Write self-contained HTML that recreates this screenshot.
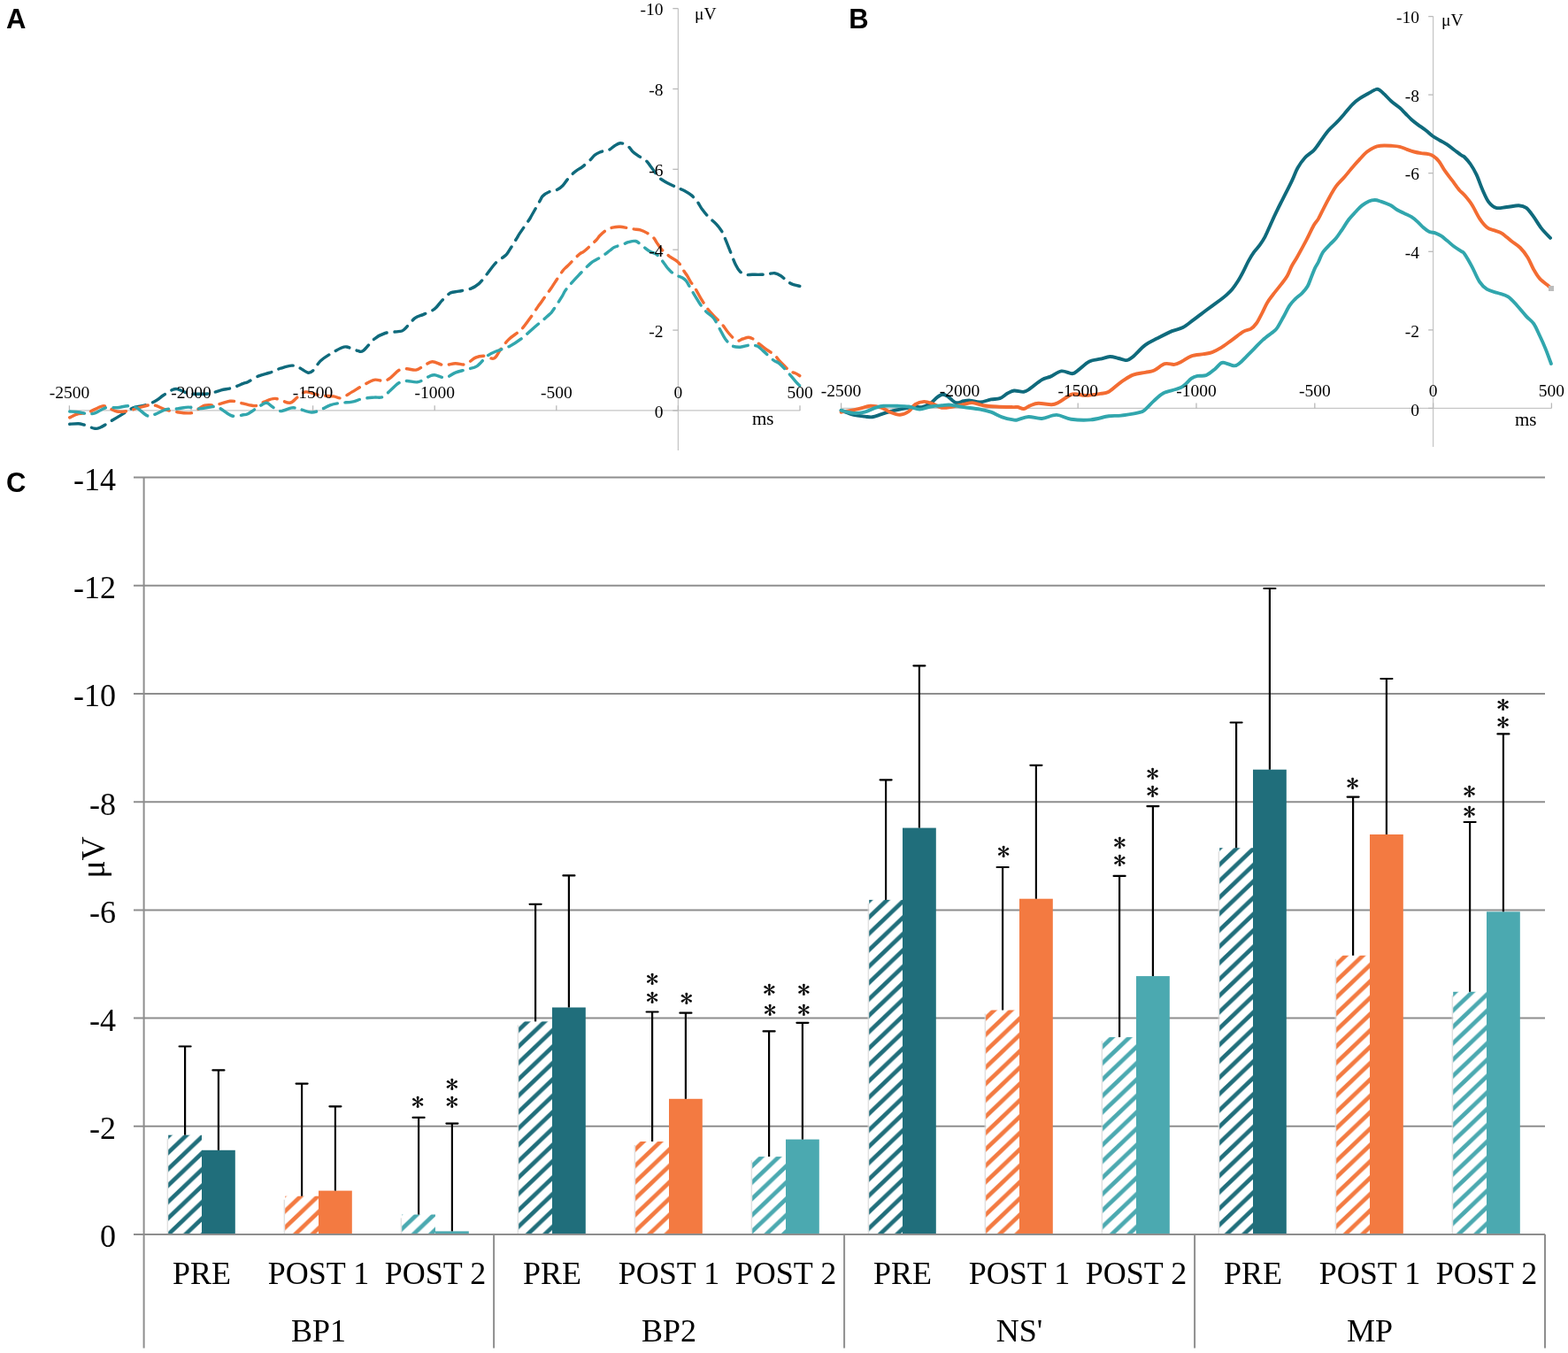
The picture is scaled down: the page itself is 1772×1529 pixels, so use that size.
<!DOCTYPE html><html><head><meta charset="utf-8"><title>ERP figure</title><style>html,body{margin:0;padding:0;background:#fff;}svg{display:block;}text{font-family:"Liberation Serif",serif;fill:#000;}.lbl{font-family:"Liberation Sans",sans-serif;font-weight:bold;}.st{font-family:"IPAGothic",sans-serif;}</style></head><body>
<svg width="1772" height="1529" viewBox="0 0 1772 1529">
<defs><pattern id="h0" patternUnits="userSpaceOnUse" x="190.2" y="1317.7" width="19.4" height="18.5"><rect width="19.4" height="18.5" fill="#fff"/><path d="M0,18.5 L19.4,0 L19.4,6.5 L0,25 Z" fill="#206E7B"/><path d="M0,0 L19.4,-18.5 L19.4,-12 L0,6.5 Z" fill="#206E7B"/></pattern><pattern id="h1" patternUnits="userSpaceOnUse" x="322.3" y="1309.8" width="19.4" height="18.5"><rect width="19.4" height="18.5" fill="#fff"/><path d="M0,18.5 L19.4,0 L19.4,6.5 L0,25 Z" fill="#F37A41"/><path d="M0,0 L19.4,-18.5 L19.4,-12 L0,6.5 Z" fill="#F37A41"/></pattern><pattern id="h2" patternUnits="userSpaceOnUse" x="454.1" y="1311.6" width="19.4" height="18.5"><rect width="19.4" height="18.5" fill="#fff"/><path d="M0,18.5 L19.4,0 L19.4,6.5 L0,25 Z" fill="#4BA9B0"/><path d="M0,0 L19.4,-18.5 L19.4,-12 L0,6.5 Z" fill="#4BA9B0"/></pattern><pattern id="h3" patternUnits="userSpaceOnUse" x="586.3" y="1308.6" width="19.4" height="18.5"><rect width="19.4" height="18.5" fill="#fff"/><path d="M0,18.5 L19.4,0 L19.4,6.5 L0,25 Z" fill="#206E7B"/><path d="M0,0 L19.4,-18.5 L19.4,-12 L0,6.5 Z" fill="#206E7B"/></pattern><pattern id="h4" patternUnits="userSpaceOnUse" x="718.4" y="1313.6" width="19.4" height="18.5"><rect width="19.4" height="18.5" fill="#fff"/><path d="M0,18.5 L19.4,0 L19.4,6.5 L0,25 Z" fill="#F37A41"/><path d="M0,0 L19.4,-18.5 L19.4,-12 L0,6.5 Z" fill="#F37A41"/></pattern><pattern id="h5" patternUnits="userSpaceOnUse" x="850.1" y="1314.2" width="19.4" height="18.5"><rect width="19.4" height="18.5" fill="#fff"/><path d="M0,18.5 L19.4,0 L19.4,6.5 L0,25 Z" fill="#4BA9B0"/><path d="M0,0 L19.4,-18.5 L19.4,-12 L0,6.5 Z" fill="#4BA9B0"/></pattern><pattern id="h6" patternUnits="userSpaceOnUse" x="982.3" y="1310.6" width="19.4" height="18.5"><rect width="19.4" height="18.5" fill="#fff"/><path d="M0,18.5 L19.4,0 L19.4,6.5 L0,25 Z" fill="#206E7B"/><path d="M0,0 L19.4,-18.5 L19.4,-12 L0,6.5 Z" fill="#206E7B"/></pattern><pattern id="h7" patternUnits="userSpaceOnUse" x="1114.3" y="1313.6" width="19.4" height="18.5"><rect width="19.4" height="18.5" fill="#fff"/><path d="M0,18.5 L19.4,0 L19.4,6.5 L0,25 Z" fill="#F37A41"/><path d="M0,0 L19.4,-18.5 L19.4,-12 L0,6.5 Z" fill="#F37A41"/></pattern><pattern id="h8" patternUnits="userSpaceOnUse" x="1246.4" y="1308.6" width="19.4" height="18.5"><rect width="19.4" height="18.5" fill="#fff"/><path d="M0,18.5 L19.4,0 L19.4,6.5 L0,25 Z" fill="#4BA9B0"/><path d="M0,0 L19.4,-18.5 L19.4,-12 L0,6.5 Z" fill="#4BA9B0"/></pattern><pattern id="h9" patternUnits="userSpaceOnUse" x="1378.2" y="1306.8" width="19.4" height="18.5"><rect width="19.4" height="18.5" fill="#fff"/><path d="M0,18.5 L19.4,0 L19.4,6.5 L0,25 Z" fill="#206E7B"/><path d="M0,0 L19.4,-18.5 L19.4,-12 L0,6.5 Z" fill="#206E7B"/></pattern><pattern id="h10" patternUnits="userSpaceOnUse" x="1510.3" y="1308.6" width="19.4" height="18.5"><rect width="19.4" height="18.5" fill="#fff"/><path d="M0,18.5 L19.4,0 L19.4,6.5 L0,25 Z" fill="#F37A41"/><path d="M0,0 L19.4,-18.5 L19.4,-12 L0,6.5 Z" fill="#F37A41"/></pattern><pattern id="h11" patternUnits="userSpaceOnUse" x="1642.4" y="1304.8" width="19.4" height="18.5"><rect width="19.4" height="18.5" fill="#fff"/><path d="M0,18.5 L19.4,0 L19.4,6.5 L0,25 Z" fill="#4BA9B0"/><path d="M0,0 L19.4,-18.5 L19.4,-12 L0,6.5 Z" fill="#4BA9B0"/></pattern><linearGradient id="sh" x1="0" x2="1" y1="0" y2="0"><stop offset="0" stop-color="#e6e6e6" stop-opacity="0"/><stop offset="1" stop-color="#cfcfcf"/></linearGradient></defs>
<text class="lbl" x="7" y="32" font-size="31">A</text>
<text class="lbl" x="959.2" y="32" font-size="31">B</text>
<text class="lbl" x="7" y="555.8" font-size="31">C</text>
<line x1="766.4" y1="9.6" x2="766.4" y2="509" stroke="#C6C6C6" stroke-width="1.3"/>
<line x1="78.4" y1="463.9" x2="904.2" y2="463.9" stroke="#C6C6C6" stroke-width="1.3"/>
<line x1="760.3" y1="463.9" x2="766.4" y2="463.9" stroke="#B9B9B9" stroke-width="1.3"/>
<line x1="760.3" y1="373.1" x2="766.4" y2="373.1" stroke="#B9B9B9" stroke-width="1.3"/>
<line x1="760.3" y1="282.2" x2="766.4" y2="282.2" stroke="#B9B9B9" stroke-width="1.3"/>
<line x1="760.3" y1="191.3" x2="766.4" y2="191.3" stroke="#B9B9B9" stroke-width="1.3"/>
<line x1="760.3" y1="100.5" x2="766.4" y2="100.5" stroke="#B9B9B9" stroke-width="1.3"/>
<line x1="760.3" y1="9.6" x2="766.4" y2="9.6" stroke="#B9B9B9" stroke-width="1.3"/>
<line x1="78.4" y1="458.3" x2="78.4" y2="463.9" stroke="#B9B9B9" stroke-width="1.3"/>
<line x1="216" y1="458.3" x2="216" y2="463.9" stroke="#B9B9B9" stroke-width="1.3"/>
<line x1="353.6" y1="458.3" x2="353.6" y2="463.9" stroke="#B9B9B9" stroke-width="1.3"/>
<line x1="491.2" y1="458.3" x2="491.2" y2="463.9" stroke="#B9B9B9" stroke-width="1.3"/>
<line x1="628.8" y1="458.3" x2="628.8" y2="463.9" stroke="#B9B9B9" stroke-width="1.3"/>
<line x1="766.4" y1="458.3" x2="766.4" y2="463.9" stroke="#B9B9B9" stroke-width="1.3"/>
<line x1="904" y1="458.3" x2="904" y2="463.9" stroke="#B9B9B9" stroke-width="1.3"/>
<line x1="1619.6" y1="18.6" x2="1619.6" y2="505" stroke="#C6C6C6" stroke-width="1.3"/>
<line x1="950.6" y1="461.4" x2="1753.4" y2="461.4" stroke="#C6C6C6" stroke-width="1.3"/>
<line x1="1614.2" y1="461.4" x2="1619.6" y2="461.4" stroke="#B9B9B9" stroke-width="1.3"/>
<line x1="1614.2" y1="372.9" x2="1619.6" y2="372.9" stroke="#B9B9B9" stroke-width="1.3"/>
<line x1="1614.2" y1="284.3" x2="1619.6" y2="284.3" stroke="#B9B9B9" stroke-width="1.3"/>
<line x1="1614.2" y1="195.7" x2="1619.6" y2="195.7" stroke="#B9B9B9" stroke-width="1.3"/>
<line x1="1614.2" y1="107.1" x2="1619.6" y2="107.1" stroke="#B9B9B9" stroke-width="1.3"/>
<line x1="1614.2" y1="18.6" x2="1619.6" y2="18.6" stroke="#B9B9B9" stroke-width="1.3"/>
<line x1="950.6" y1="455.4" x2="950.6" y2="461.4" stroke="#B9B9B9" stroke-width="1.3"/>
<line x1="1084.4" y1="455.4" x2="1084.4" y2="461.4" stroke="#B9B9B9" stroke-width="1.3"/>
<line x1="1218.2" y1="455.4" x2="1218.2" y2="461.4" stroke="#B9B9B9" stroke-width="1.3"/>
<line x1="1352" y1="455.4" x2="1352" y2="461.4" stroke="#B9B9B9" stroke-width="1.3"/>
<line x1="1485.8" y1="455.4" x2="1485.8" y2="461.4" stroke="#B9B9B9" stroke-width="1.3"/>
<line x1="1619.6" y1="455.4" x2="1619.6" y2="461.4" stroke="#B9B9B9" stroke-width="1.3"/>
<line x1="1753.4" y1="455.4" x2="1753.4" y2="461.4" stroke="#B9B9B9" stroke-width="1.3"/>
<path d="M78.7,479.3C80.3,479.2 85.9,478.6 88.6,478.7C91.3,478.8 91.7,479.1 94.8,480C97.9,480.9 104.1,483.8 107.2,484.3C110.3,484.8 110.4,484.4 113.5,483C116.6,481.6 121.8,478.1 125.9,475.6C130,473.1 134.2,470.6 138.3,468.1C142.4,465.6 146.6,462.4 150.7,460.7C154.8,459 159,459.4 163.1,458.2C167.2,457 172,455.2 175.5,453.3C179,451.4 181.1,449.1 184.2,447C187.3,444.9 191.5,442 194.2,440.8C196.9,439.6 197.3,439 200.4,439.6C203.5,440.2 208.7,443.7 212.8,444.6C216.9,445.5 221.1,445.2 225.2,445.2C229.3,445.2 233.5,445.3 237.6,444.6C241.7,443.9 245.9,441.8 250,440.8C254.1,439.8 258.2,439.6 262.4,438.4C266.5,437.2 272,434.5 274.9,433.4C277.8,432.3 277.1,433.1 280,431.7C282.9,430.3 288.3,426.6 292.4,424.9C296.5,423.1 300.7,422.6 304.8,421.2C308.9,419.8 313.1,417.5 317.2,416.2C321.3,414.9 326.2,413.2 329.7,413.1C333.2,413 335.3,414.2 338.4,415.6C341.5,417 345.6,420.8 348.3,421.2C351,421.6 352.2,420.3 354.5,418.1C356.8,415.9 358.8,411.1 361.9,408.1C365,405.1 369.2,402.6 373.1,400.1C377,397.6 382.4,394.7 385.5,393.3C388.6,391.9 388.6,391.5 391.7,392C394.8,392.5 401.1,395.7 404.2,396.4C407.3,397.1 407.3,398.6 410.4,396.4C413.5,394.2 418.7,386.6 422.8,383.3C426.9,380 430.6,377.9 435.2,376.5C439.8,375.1 446.6,375.2 450.1,374.6C453.6,374 453.2,375.3 456.3,372.8C459.4,370.3 465,362.6 468.7,359.7C472.4,356.8 474.9,357.1 478.6,355.4C482.3,353.6 487.6,351.8 491.1,349.2C494.6,346.6 496.5,342.6 499.5,339.6C502.5,336.6 505.9,332.8 509,331.1C512.1,329.4 514.6,330 518.4,329.2C522.2,328.4 527.9,327.7 531.7,326.3C535.5,324.9 538,323.4 541.2,320.6C544.4,317.8 547.6,313.2 550.7,309.3C553.8,305.4 556.9,300.6 560,297.4C563.1,294.2 567.1,292 569.4,290.1C571.7,288.2 571.1,289.4 573.6,285.9C576.1,282.4 581.8,272.8 584.1,269.1C586.4,265.4 584.9,267.3 587.2,263.9C589.5,260.5 595.4,252.1 597.7,248.7C600,245.3 598.7,247.2 600.8,243.5C602.9,239.8 608.2,230.4 610.3,226.7C612.4,223 611.7,223.2 613.4,221.5C615.1,219.8 618.1,217.9 620.7,216.8C623.3,215.7 626.6,215.9 629.1,214.7C631.6,213.5 634,211.7 636,209.7C638,207.7 639.3,205.2 641.2,202.9C643.1,200.6 645.6,197.9 647.5,196.1C649.4,194.3 651,193.1 652.8,191.9C654.5,190.7 655.6,190.6 658,188.7C660.4,186.8 665.1,182.6 667.4,180.4C669.7,178.2 669.9,177.1 671.6,175.7C673.4,174.3 675.6,173 677.9,172C680.2,171 683.3,170.4 685.2,169.9C687.1,169.4 687.8,169.7 689.4,168.8C691,167.9 692.7,165.9 694.6,164.7C696.5,163.5 698.8,161.9 700.9,161.7C703,161.5 705.5,162.8 707.2,163.6C709,164.4 710.1,165.5 711.4,166.8C712.7,168.1 713.5,169.9 715.2,171.5C716.9,173.1 719,174.5 721.5,176.2C724,177.8 727.6,179.5 729.9,181.4C732.2,183.3 733.4,185.4 735.1,187.7C736.9,190 738.6,192.7 740.4,195C742.1,197.3 743.7,199.6 745.6,201.3C747.5,203.1 749.5,204.1 751.9,205.5C754.3,206.9 757.9,208.5 760.3,209.7C762.6,210.8 763.8,211.4 766,212.4C768.2,213.4 771.2,214.3 773.8,215.7C776.4,217.1 779.3,218.8 781.7,220.9C784.1,223 786.2,225.5 788.2,228.1C790.2,230.7 791.3,233.6 793.5,236.6C795.7,239.6 798.7,243.1 801.3,245.8C803.9,248.5 806.7,250.3 809.1,252.9C811.5,255.5 813.7,258 815.7,261.4C817.7,264.8 819.2,269 820.9,273.2C822.6,277.4 824.4,281.9 826.1,286.3C827.9,290.7 829.6,295.8 831.4,299.3C833.1,302.8 834.6,305.3 836.6,307.2C838.6,309.1 840.9,310 843.1,310.5C845.4,311 847.2,310.3 850.1,310.3C853,310.3 857.4,310.4 860.3,310.3C863.2,310.2 864.9,310.1 867.4,309.8C869.9,309.5 873,308.4 875.5,308.7C878,309 880.3,310.4 882.5,311.8C884.7,313.2 886.6,315.3 888.6,316.8C890.6,318.3 892.2,319.8 894.7,320.9C897.2,322 902.3,323 903.8,323.4" fill="none" stroke="#0F6A7C" stroke-width="3.4" stroke-linecap="round" stroke-linejoin="round" stroke-dasharray="16.8 8.7"/>
<path d="M78.7,471.9C80.3,471.2 85.3,468.3 88.6,467.5C91.9,466.7 96.1,467.4 98.6,466.9C101.1,466.4 100.6,465.8 103.5,464.4C106.4,463 112.8,459.4 115.9,458.8C119,458.2 119.4,459.7 122.1,460.7C124.8,461.7 128.4,464.4 132.1,465C135.8,465.6 140.4,465.1 144.5,464.4C148.6,463.7 152.8,461.8 156.9,460.7C161,459.6 166.2,458 169.3,457.6C172.4,457.2 172.4,457.3 175.5,458.2C178.6,459.1 183.8,461.9 187.9,463.2C192.1,464.4 196.2,465.1 200.4,465.7C204.6,466.3 209.7,466.9 212.8,466.9C215.9,466.9 215.9,467.1 219,465.7C222.1,464.2 227.3,459.5 231.4,458.2C235.5,456.9 239,458.4 243.8,457.6C248.6,456.8 255.9,453.8 260,453.3C264.1,452.8 265.1,453.8 268.6,454.5C272.1,455.2 277.6,457 281.1,457.6C284.7,458.2 287,459 289.9,458.4C292.8,457.8 295.1,455.4 298.6,454.1C302.1,452.8 306.2,450.2 311,450.4C315.8,450.6 323.1,455.5 327.2,455.3C331.3,455.1 332.8,451.2 335.9,449.1C339,447 341.7,443.3 345.8,442.9C349.9,442.5 355.5,445.8 360.7,446.6C365.9,447.4 372.7,447.4 376.8,447.9C380.9,448.4 382,450.5 385.5,449.7C389,448.9 393.8,445.3 397.9,442.9C402,440.5 406.2,437.8 410.4,435.5C414.5,433.2 418.9,430.1 422.8,429.3C426.7,428.5 430.9,430.9 434,430.5C437.1,430.1 438.5,428.9 441.4,426.8C444.3,424.7 448.2,419.8 451.3,418.1C454.4,416.4 456.9,416.8 460,416.8C463.1,416.8 466.9,418.6 470,418.1C473.1,417.6 475.5,415.2 478.6,413.7C481.7,412.1 484.8,409 488.6,408.8C492.4,408.6 497.1,412.3 501.4,412.6C505.7,412.9 510.5,410.9 514.6,410.7C518.7,410.5 522.2,412.8 526,411.7C529.8,410.6 533.9,405.7 537.4,404.1C540.9,402.5 543.4,402.1 546.9,402.2C550.4,402.3 555.1,406.3 558.3,405C561.4,403.7 563,398.2 565.8,394.6C568.6,391 571.5,386.8 575.3,383.2C579.1,379.6 584.7,376.6 588.6,372.8C592.5,369 595.4,364.6 598.7,360.1C602,355.7 606.1,349.1 608.2,346.1C610.3,343.1 608.9,345.3 611.3,341.9C613.7,338.5 620.3,329.2 622.8,325.7C625.2,322.2 623.8,324.2 626,320.9C628.2,317.6 633.5,309.4 636,306C638.5,302.6 638.1,303.9 641.2,300.8C644.3,297.7 651.6,290 654.8,287.2C657.9,284.4 657,286.6 660.1,284C663.2,281.4 670.7,274.5 673.7,271.5C676.7,268.5 676,268.1 677.9,266.2C679.8,264.3 682.6,261.6 685.2,260C687.8,258.4 691,257.4 693.6,256.8C696.2,256.2 698.3,256.2 700.9,256.3C703.5,256.4 706.7,257.2 709.3,257.6C711.9,258 713.9,258.5 716.3,258.9C718.7,259.3 721.2,259.2 723.6,259.9C726,260.6 728.5,261.7 730.9,263.1C733.3,264.5 736.4,266.4 738.3,268.3C740.2,270.2 740.9,272.3 742.5,274.6C744.1,276.9 746.3,280.2 747.7,281.9C749.1,283.6 749.6,283.4 751,284.6C752.4,285.8 754.3,287.9 755.9,289.2C757.5,290.5 759.2,291.3 760.8,292.4C762.4,293.5 764.3,294.5 765.7,295.7C767.1,296.9 767.8,297.8 769,299.6C770.2,301.5 772,304.8 773.2,306.8C774.5,308.8 775.3,309.5 776.5,311.4C777.7,313.3 778.9,315.9 780.4,318.3C781.9,320.7 783.6,322.6 785.6,325.8C787.6,329 789.9,333.7 792.1,337.3C794.3,340.9 796.3,344.4 798.7,347.7C801.1,351 803.7,353.8 806.5,356.9C809.3,359.9 812.9,362.7 815.7,366C818.5,369.3 820.7,373.3 823.5,376.5C826.3,379.7 830.1,383.9 832.7,385C835.3,386.1 837,383.6 839.2,383C841.4,382.4 843.9,381.1 846.1,381.2C848.3,381.3 850.5,382.7 852.2,383.7C853.9,384.7 854,385.5 856.2,387.3C858.4,389.1 862.1,392 865.3,394.3C868.5,396.6 873,399.2 875.5,401.4C878,403.6 878.5,405.3 880.5,407.5C882.5,409.7 885.6,412.6 887.6,414.6C889.6,416.6 890.8,418.5 892.7,419.7C894.6,420.9 896.9,420.9 898.8,421.7C900.6,422.5 903,424.2 903.8,424.7" fill="none" stroke="#F36C32" stroke-width="3.4" stroke-linecap="round" stroke-linejoin="round" stroke-dasharray="16.8 8.7"/>
<path d="M78.7,465C80.3,465.1 85.3,465.3 88.6,465.7C91.9,466.1 95.5,467.3 98.6,467.5C101.7,467.7 103.7,468 107.2,466.9C110.7,465.8 115.6,461.7 119.7,460.7C123.8,459.7 128,461 132.1,460.7C136.2,460.4 140.8,458.8 144.5,458.8C148.2,458.8 150.7,458.8 154.4,460.7C158.1,462.6 163.3,468.8 166.8,470C170.3,471.2 172,469.3 175.5,468.1C179,466.9 183.8,463.6 187.9,462.6C192.1,461.6 196.2,462.3 200.4,461.9C204.6,461.5 208.7,460.1 212.8,460.1C216.9,460.1 221.1,461.9 225.2,461.9C229.3,461.9 234.1,460.4 237.6,460.1C241.1,459.8 242.2,458.5 246.3,460.1C250.4,461.8 257.6,468.6 262.4,470C267.2,471.4 272,469.2 274.9,468.8C277.8,468.4 277.1,469.2 280,467.7C282.9,466.2 288.9,461.8 292.4,459.7C295.9,457.6 298.4,455.2 301.1,455.3C303.8,455.4 305.9,458.8 308.6,460.3C311.3,461.9 313.7,464.5 317.2,464.6C320.7,464.7 326.2,461.3 329.7,460.9C333.2,460.5 334.9,461.4 338.4,462.2C341.9,463 347.1,465.6 350.8,465.9C354.5,466.2 357,465.4 360.7,464C364.4,462.6 369,459.2 373.1,457.8C377.2,456.4 381.4,455.9 385.5,455.3C389.6,454.7 393.8,454.9 397.9,454.1C402,453.3 406.2,451.2 410.4,450.4C414.5,449.6 419.1,449.4 422.8,449.1C426.5,448.8 429.6,449.9 432.7,448.5C435.8,447.1 438.3,443.7 441.4,441C444.5,438.3 448.2,434.1 451.3,432.4C454.4,430.6 456.5,430.6 460,430.5C463.5,430.4 468.2,432.5 472.4,431.7C476.5,430.9 481.8,426.8 484.9,425.5C488,424.2 488,423.5 491.1,423.7C494.2,423.9 499.4,427.2 503.3,426.8C507.2,426.4 510.5,422.7 514.6,421.1C518.7,419.5 523.8,418.6 527.9,417.3C532,416.1 535.5,416.1 539.3,413.6C543.1,411.1 546.9,405.1 550.7,402.2C554.5,399.3 557.9,398.2 562,396.5C566.1,394.8 570.9,393.9 575.3,391.7C579.7,389.5 583.9,386.8 588.6,383.2C593.4,379.6 599.3,373.9 603.8,370C608.3,366.1 612.5,362.7 615.5,360.1C618.5,357.5 620.2,356.1 621.8,354.5C623.4,352.9 622.6,354.1 624.9,350.8C627.2,347.5 632.9,338.6 635.4,334.6C637.9,330.6 636.8,330.8 640,326.7C643.2,322.6 650.2,315 654.8,310.1C659.4,305.2 664.2,300.4 667.4,297.6C670.5,294.8 671.4,294.9 673.7,293.5C676,292.1 678.4,291.1 681,289.3C683.6,287.6 687.1,284.7 689.4,283C691.7,281.3 692.1,280.4 694.6,279.3C697.1,278.2 701.5,277.1 704.1,276.2C706.7,275.2 707.6,274.2 710,273.6C712.4,273 715.8,271.8 718.4,272.5C721,273.2 723.1,275.8 725.7,277.7C728.3,279.6 731.5,282.4 734.1,284C736.7,285.6 739.3,285.8 741.4,287.2C743.5,288.6 745,290.5 746.6,292.4C748.2,294.2 749.5,296.4 751,298.3C752.5,300.2 753.9,302.3 755.3,303.9C756.7,305.5 757.7,306.6 759.2,307.8C760.7,309 762.1,310.1 764.1,311.1C766.1,312.1 769.4,312.9 771.3,314C773.2,315.1 774,315.6 775.5,317.6C777,319.6 778.7,323 780.4,325.8C782.1,328.6 783.6,331.4 785.6,334.6C787.6,337.8 789.9,342.1 792.1,345.1C794.3,348.2 796.3,350.5 798.7,352.9C801.1,355.3 804.1,356.4 806.5,359.5C808.9,362.6 810.9,367.3 813.1,371.2C815.3,375.1 817.2,379.7 819.6,383C822,386.3 824.6,389.3 827.4,390.8C830.2,392.3 833.5,392.3 836.6,392.2C839.7,392.1 843.8,390.5 846,390.2C848.2,389.9 848.4,390.1 850.1,390.3C851.8,390.5 854.2,390.3 856.2,391.3C858.2,392.3 859.4,393.9 862.3,396.4C865.2,398.9 870.4,404.1 873.4,406.5C876.4,408.9 878.1,408.8 880.5,410.6C882.9,412.5 885.4,415.2 887.6,417.6C889.8,420 891.7,422.3 893.7,424.7C895.7,427.1 898.1,429.9 899.8,431.8C901.5,433.7 903.1,435.2 903.8,435.9" fill="none" stroke="#31A6AD" stroke-width="3.4" stroke-linecap="round" stroke-linejoin="round" stroke-dasharray="16.8 8.7"/>
<path d="M950.6,463.8C953,464.6 960.4,467.7 964.8,468.8C969.2,469.9 973.7,470.2 977.2,470.6C980.7,471 982.8,471.7 985.9,471.3C989,470.9 992.2,469.4 995.9,468.2C999.6,467 1004.2,465.4 1008.3,464.4C1012.4,463.3 1016.6,462.7 1020.7,461.9C1024.8,461.1 1029.6,459.8 1033.1,459.5C1036.6,459.2 1038.7,460.7 1041.8,460.1C1044.9,459.5 1048.8,457.6 1051.7,455.7C1054.6,453.8 1056.9,450.5 1059.2,448.9C1061.5,447.2 1063.3,445.9 1065.4,445.8C1067.5,445.7 1069.1,446.8 1071.6,448.3C1074.1,449.9 1077.4,454.3 1080.3,455.1C1083.2,455.9 1086.3,453.7 1089,453.3C1091.7,452.9 1093.3,452.4 1096.4,452.6C1099.5,452.8 1103.7,454.7 1107.6,454.5C1111.5,454.3 1116.3,452.1 1120,451.4C1123.7,450.7 1126.9,451.2 1130,450.1C1133.1,449 1135.9,446 1138.6,444.6C1141.3,443.2 1143,441.8 1146.1,441.5C1149.1,441.2 1154,443.2 1156.9,442.8C1159.8,442.4 1160.3,441.7 1163.7,439.4C1167.1,437.1 1173.6,431.4 1177.5,429.1C1181.4,426.8 1183.4,427.2 1187.1,425.6C1190.8,424 1195.4,420 1199.5,419.4C1203.6,418.8 1208.6,422.4 1211.8,422.2C1215,422 1215.5,420.4 1218.7,418.1C1221.9,415.8 1227,410.6 1231.1,408.5C1235.2,406.4 1239.5,406.6 1243.4,405.7C1247.3,404.8 1251,403.1 1254.4,403C1257.8,402.9 1260.8,404.3 1264,405C1267.2,405.7 1270.8,407.4 1273.6,407.1C1276.3,406.8 1277,405.9 1280.5,403C1284,400.1 1289.7,393.3 1294.3,389.9C1298.9,386.4 1303,384.9 1308,382.3C1313,379.7 1319.7,376.2 1324.5,374.1C1329.3,372.1 1332.7,372.2 1336.8,370C1340.9,367.8 1344.8,364.3 1349.2,361.1C1353.6,357.9 1357.8,354.6 1362.9,350.8C1368,347 1376.1,341.1 1380,338.2C1383.9,335.3 1384.1,335.1 1386.2,333.2C1388.3,331.3 1390.3,329.5 1392.4,327C1394.5,324.5 1396.5,321.6 1398.6,318.3C1400.7,315 1402.8,311.1 1404.9,307.1C1407,303.2 1409,298.3 1411.1,294.6C1413.2,290.9 1415.2,287.6 1417.3,284.7C1419.4,281.8 1421.4,280.1 1423.5,277.2C1425.6,274.3 1427.6,271.2 1429.7,267.3C1431.8,263.4 1433.8,258.2 1435.9,253.6C1438,249 1440.3,243.8 1442.2,239.9C1444.1,236 1444.1,235.9 1447.1,230C1450.1,224.1 1456.8,211.1 1460,204.4C1463.2,197.7 1464,194.1 1466.5,189.7C1469,185.3 1471.7,181.5 1474.7,178.2C1477.7,174.9 1482,172.6 1484.5,170.1C1487,167.6 1487.3,166.7 1490,163C1492.7,159.3 1497.3,152.1 1500.8,148C1504.2,143.9 1507.7,141.3 1510.7,138.2C1513.7,135.1 1515.8,132.6 1518.8,129.2C1521.8,125.8 1525.6,120.8 1528.6,117.8C1531.6,114.8 1533.8,113.2 1536.8,111.2C1539.8,109.2 1543.6,107.2 1546.6,105.5C1549.6,103.8 1552.9,101.6 1555,101C1557.1,100.4 1557.4,100.8 1559,101.7C1560.6,102.6 1562.2,104.3 1564.4,106.4C1566.6,108.5 1569.5,111.9 1572.4,114.5C1575.3,117.1 1579.1,119.5 1581.8,121.8C1584.5,124.1 1586.3,126.3 1588.5,128.5C1590.7,130.7 1593,133.2 1595.2,135.2C1597.5,137.2 1599.3,138.6 1602,140.6C1604.7,142.6 1608.4,145.1 1611.3,147.3C1614.2,149.5 1616.7,152.1 1619.4,154C1622.1,155.9 1624.7,157.1 1627.4,158.7C1630.1,160.3 1632.8,161.6 1635.5,163.4C1638.2,165.2 1640.8,167.5 1643.5,169.5C1646.2,171.5 1649.7,174.2 1651.6,175.5C1653.5,176.8 1653.3,175.8 1655,177.5C1656.7,179.2 1659.5,182.2 1661.8,185.5C1664.1,188.8 1666.3,192.6 1668.6,197.4C1670.9,202.2 1673.1,209.4 1675.4,214.5C1677.7,219.6 1679.7,224.7 1682.2,228.1C1684.8,231.5 1687.3,233.9 1690.7,234.9C1694.1,235.9 1698.4,234.4 1702.7,234C1707,233.6 1712.6,232.2 1716.3,232.3C1720,232.5 1722,232.8 1724.8,234.9C1727.6,237 1730.5,241.3 1733.3,245.1C1736.1,248.9 1738.7,253.9 1741.8,257.9C1744.9,261.9 1750.3,267.1 1752,268.9" fill="none" stroke="#0F6A7C" stroke-width="3.9" stroke-linecap="round" stroke-linejoin="round"/>
<path d="M950.6,465.7C951.9,465.5 955.2,465 958.6,464.4C962,463.8 966.9,462.8 971,461.9C975.1,461 979.4,459 983.5,458.8C987.6,458.6 992.2,459.6 995.9,460.7C999.6,461.8 1002.3,464.3 1005.8,465.7C1009.3,467.1 1013.5,468.9 1017,468.8C1020.5,468.7 1024,467 1026.9,465C1029.8,463 1031.5,458.9 1034.4,457C1037.3,455.1 1041,454 1044.3,453.9C1047.6,453.8 1050.9,455.3 1054.2,456.4C1057.5,457.5 1060.5,460.2 1064.2,460.7C1067.9,461.2 1072.5,460.1 1076.6,459.5C1080.7,458.9 1085.3,457.7 1089,457C1092.7,456.3 1095.2,454.9 1098.9,455.1C1102.6,455.3 1106.8,457.5 1111.3,458.2C1115.8,458.9 1120.6,459.2 1126.2,459.5C1131.8,459.8 1140.9,460 1144.9,460.1C1148.9,460.2 1148,459.7 1150,460C1152,460.3 1154.6,462.2 1156.9,462C1159.2,461.8 1161,459.6 1163.7,458.6C1166.5,457.6 1169.3,456 1173.4,455.8C1177.5,455.6 1184.6,457.4 1188.5,457.2C1192.4,457 1192.8,456.4 1196.7,454.5C1200.6,452.6 1206.8,446.8 1211.8,445.5C1216.8,444.2 1221.6,447 1226.9,446.9C1232.2,446.8 1239.1,445.6 1243.4,444.9C1247.8,444.2 1249.1,445 1253,442.8C1256.9,440.6 1262.2,435 1266.8,431.8C1271.4,428.6 1275.9,425.4 1280.5,423.6C1285.1,421.8 1290.4,421.6 1294.3,420.8C1298.2,420 1300.2,420.4 1303.9,418.8C1307.6,417.2 1312.3,412.4 1316.2,411.2C1320.1,410 1324,412.3 1327.2,411.9C1330.4,411.4 1332.3,410.1 1335.5,408.5C1338.7,406.9 1342.4,403.7 1346.5,402.3C1350.6,400.9 1356.3,400.9 1360.2,400.2C1364.1,399.5 1366.5,399.3 1369.8,398.1C1373.1,396.9 1376.2,395.2 1380,392.9C1383.8,390.6 1388.2,387.1 1392.4,384.1C1396.6,381.1 1401.4,376.9 1404.9,374.8C1408.4,372.7 1411.1,373.2 1413.6,371.7C1416.1,370.1 1417.7,368.4 1419.8,365.5C1421.9,362.6 1423.9,358.2 1426,354.3C1428.1,350.4 1430.1,345.4 1432.2,341.9C1434.3,338.4 1435.8,336.6 1438.4,333.2C1441,329.8 1445.1,324.9 1447.8,321.4C1450.5,317.9 1452.6,315.5 1454.6,312C1456.6,308.5 1458,304.2 1459.9,300.5C1461.8,296.8 1463.5,294.9 1466.2,290C1468.9,285.1 1473.2,277.2 1476.3,271.4C1479.3,265.6 1482.2,259.1 1484.5,255C1486.8,250.9 1488.1,250.4 1490,247.1C1491.9,243.8 1493.8,239.4 1495.9,235.3C1498,231.2 1500.4,226.6 1502.7,222.5C1505,218.4 1506.8,214.6 1509.6,210.8C1512.4,207.1 1516.1,203.8 1519.4,200C1522.7,196.2 1526.2,191.6 1529.2,188.2C1532.2,184.8 1534.5,182.2 1537.1,179.4C1539.7,176.6 1542.3,173.7 1544.9,171.6C1547.5,169.5 1550.2,167.8 1552.7,166.7C1555.2,165.5 1556.7,165 1560,164.7C1563.3,164.4 1568.8,164.6 1572.4,164.8C1576,165 1578.9,165.1 1581.8,165.8C1584.7,166.5 1587.2,167.9 1589.9,168.8C1592.6,169.8 1595.2,170.8 1597.9,171.5C1600.6,172.2 1603.3,172.7 1606,173.1C1608.7,173.5 1611.8,173.6 1614,174.1C1616.2,174.6 1617.4,174.8 1619.4,176.2C1621.4,177.5 1623.9,179.4 1626.1,182.2C1628.3,185 1630.3,189.3 1632.8,192.9C1635.3,196.5 1638.2,200.1 1640.9,203.7C1643.6,207.3 1646.6,211.6 1648.9,214.4C1651.2,217.2 1652.6,217.7 1655,220.5C1657.4,223.3 1660.7,227.1 1663.5,231.5C1666.3,235.9 1669.2,242.6 1672,246.8C1674.8,251.1 1677.7,254.7 1680.5,257C1683.3,259.3 1686.2,259.3 1689,260.4C1691.8,261.5 1694.4,261.8 1697.5,263.8C1700.6,265.8 1704.4,269.6 1707.8,272.3C1711.2,275 1714.9,276.9 1718,280C1721.1,283.1 1724,286.9 1726.5,291C1729,295.1 1731,300.7 1733.3,304.7C1735.6,308.7 1737.3,311.8 1740.1,314.9C1742.9,318 1748.2,321.6 1750.3,323.4C1752.4,325.2 1752.5,325.1 1752.9,325.5" fill="none" stroke="#F36C32" stroke-width="3.9" stroke-linecap="round" stroke-linejoin="round"/>
<path d="M950.6,463.8C953,464.3 960.4,466.6 964.8,466.9C969.2,467.2 973.1,466.7 977.2,465.7C981.4,464.7 986.2,461.8 989.7,460.7C993.2,459.6 994.3,459.1 998.4,458.8C1002.5,458.5 1009.8,458.7 1014.5,458.8C1019.2,458.9 1022.8,458.9 1026.9,459.5C1031,460.1 1035.2,462.6 1039.3,462.6C1043.4,462.6 1047.5,460.2 1051.7,459.5C1055.9,458.8 1060.5,458.5 1064.2,458.2C1067.9,457.9 1070,457.3 1074.1,457.6C1078.2,457.9 1083.4,459.3 1089,460.1C1094.6,460.9 1102.4,461.7 1107.6,462.6C1112.8,463.5 1115.9,464.2 1120,465.7C1124.1,467.1 1128.2,469.9 1132.4,471.3C1136.6,472.8 1142,473.9 1144.9,474.4C1147.8,474.9 1147.1,475 1150,474.4C1152.9,473.8 1157.8,471.2 1162.4,471C1167,470.8 1172.2,473.4 1177.5,473C1182.8,472.6 1188.5,468.8 1194,468.9C1199.5,469 1204,472.8 1210.4,473.7C1216.8,474.6 1225.3,475 1232.4,474.4C1239.5,473.8 1247.3,471.1 1253,470.3C1258.7,469.5 1261.1,470.3 1266.8,469.6C1272.5,468.9 1282.8,467.4 1287.4,466.2C1292,465 1291.5,464.9 1294.3,462.7C1297,460.5 1300.5,456.2 1303.9,453.1C1307.3,450 1310.8,446.4 1314.9,444.2C1319,442 1324.9,441.3 1328.6,440C1332.2,438.7 1333.8,438.7 1336.8,436.6C1339.8,434.6 1343.8,429.6 1346.5,427.7C1349.2,425.8 1350.6,425.5 1353.3,424.9C1356,424.3 1359.7,425.4 1362.9,424.2C1366.1,422.9 1369.8,419.7 1372.6,417.4C1375.4,415.1 1377.9,411.5 1380,410.3C1382.1,409.1 1382.5,409.8 1385,410.3C1387.5,410.8 1392.2,413.4 1394.9,413.4C1397.6,413.4 1398.8,412.1 1401.1,410.3C1403.4,408.5 1405.9,405.5 1408.6,402.8C1411.3,400.1 1414.2,397.2 1417.3,394.1C1420.4,391 1423.5,387.4 1427.2,384.1C1430.9,380.8 1437,376.6 1439.7,374.2C1442.5,371.8 1441.9,372.7 1443.7,370C1445.5,367.3 1448.2,362.1 1450.5,358C1452.8,353.9 1455.1,348.7 1457.3,345.4C1459.5,342.1 1461.2,340.5 1463.5,338.1C1465.8,335.8 1469,333.7 1471.4,331.3C1473.8,328.9 1476,326.5 1477.7,323.5C1479.4,320.5 1480.4,316.9 1481.8,313.5C1483.2,310.1 1484.6,306 1486,303.1C1487.4,300.2 1488.5,299 1490,296C1491.5,293 1492.8,288.6 1494.9,285.3C1497,282.1 1500.2,279.1 1502.7,276.5C1505.2,273.9 1507.3,272.4 1509.6,269.6C1511.9,266.8 1514,263.4 1516.5,259.8C1519,256.2 1521.7,251.4 1524.3,248C1526.9,244.6 1529.8,241.8 1532.2,239.2C1534.7,236.6 1536.5,234.3 1539,232.4C1541.5,230.5 1544.5,228.6 1546.9,227.5C1549.4,226.4 1551.5,226 1553.7,226C1555.9,226 1557.1,226.5 1560,227.5C1562.9,228.5 1567.9,230.2 1571.1,231.8C1574.3,233.4 1576.4,235.6 1579.1,237.2C1581.8,238.8 1584.5,239.9 1587.2,241.2C1589.9,242.5 1592.7,243.6 1595.2,245.2C1597.7,246.8 1599.8,248.6 1602,250.6C1604.2,252.6 1606.5,255.4 1608.7,257.3C1610.9,259.2 1613.2,261 1615.4,262C1617.6,263 1619.9,262.6 1622.1,263.4C1624.3,264.2 1626.6,265.2 1628.8,266.7C1631,268.1 1633,270.1 1635.5,272.1C1638,274.1 1640.8,276.8 1643.5,278.8C1646.2,280.8 1649.7,282.8 1651.6,284.1C1653.5,285.4 1653,283.9 1655,286.8C1657,289.7 1660.7,296.1 1663.5,301.3C1666.3,306.6 1669.2,314.1 1672,318.3C1674.8,322.6 1677.1,324.7 1680.5,326.8C1683.9,328.9 1688.4,329.6 1692.4,331C1696.4,332.4 1700.7,332.9 1704.4,335.3C1708.1,337.7 1711.2,341.8 1714.6,345.5C1718,349.2 1721.7,354 1724.8,357.4C1727.9,360.8 1730.8,362.2 1733.3,365.9C1735.8,369.6 1737.8,374.7 1740.1,379.5C1742.4,384.3 1744.8,389.6 1746.9,394.9C1749,400.1 1751.9,408.3 1752.9,411" fill="none" stroke="#31A6AD" stroke-width="3.9" stroke-linecap="round" stroke-linejoin="round"/>
<rect x="1750" y="323" width="6" height="6" fill="#BDBDBD"/>
<text x="749.5" y="472.3" font-size="19.5" text-anchor="end">0</text>
<text x="749.5" y="380.8" font-size="19.5" text-anchor="end">-2</text>
<text x="749.5" y="289.9" font-size="19.5" text-anchor="end">-4</text>
<text x="749.5" y="199" font-size="19.5" text-anchor="end">-6</text>
<text x="749.5" y="108.2" font-size="19.5" text-anchor="end">-8</text>
<text x="749.5" y="17.3" font-size="19.5" text-anchor="end">-10</text>
<text x="78.4" y="450.2" font-size="19.5" text-anchor="middle">-2500</text>
<text x="216" y="450.2" font-size="19.5" text-anchor="middle">-2000</text>
<text x="353.6" y="450.2" font-size="19.5" text-anchor="middle">-1500</text>
<text x="491.2" y="450.2" font-size="19.5" text-anchor="middle">-1000</text>
<text x="628.8" y="450.2" font-size="19.5" text-anchor="middle">-500</text>
<text x="766.4" y="450.2" font-size="19.5" text-anchor="middle">0</text>
<text x="904" y="450.2" font-size="19.5" text-anchor="middle">500</text>
<text x="1604" y="469.8" font-size="19.5" text-anchor="end">0</text>
<text x="1604" y="380.6" font-size="19.5" text-anchor="end">-2</text>
<text x="1604" y="292" font-size="19.5" text-anchor="end">-4</text>
<text x="1604" y="203.4" font-size="19.5" text-anchor="end">-6</text>
<text x="1604" y="114.8" font-size="19.5" text-anchor="end">-8</text>
<text x="1604" y="26.3" font-size="19.5" text-anchor="end">-10</text>
<text x="950.6" y="447.8" font-size="19.5" text-anchor="middle">-2500</text>
<text x="1084.4" y="447.8" font-size="19.5" text-anchor="middle">-2000</text>
<text x="1218.2" y="447.8" font-size="19.5" text-anchor="middle">-1500</text>
<text x="1352" y="447.8" font-size="19.5" text-anchor="middle">-1000</text>
<text x="1485.8" y="447.8" font-size="19.5" text-anchor="middle">-500</text>
<text x="1619.6" y="447.8" font-size="19.5" text-anchor="middle">0</text>
<text x="1753.4" y="447.8" font-size="19.5" text-anchor="middle">500</text>
<text x="785" y="21.8" font-size="19.5">μV</text>
<text x="850" y="480.3" font-size="21">ms</text>
<text x="1629" y="28.6" font-size="19.5">μV</text>
<text x="1712" y="480.6" font-size="21">ms</text>
<text x="131" y="1409.3" font-size="36" text-anchor="end">0</text>
<line x1="151" y1="1272.8" x2="1746" y2="1272.8" stroke="#8e8e8e" stroke-width="2"/>
<text x="131" y="1287.1" font-size="36" text-anchor="end">-2</text>
<line x1="151" y1="1150.6" x2="1746" y2="1150.6" stroke="#8e8e8e" stroke-width="2"/>
<text x="131" y="1164.9" font-size="36" text-anchor="end">-4</text>
<line x1="151" y1="1028.4" x2="1746" y2="1028.4" stroke="#8e8e8e" stroke-width="2"/>
<text x="131" y="1042.7" font-size="36" text-anchor="end">-6</text>
<line x1="151" y1="906.2" x2="1746" y2="906.2" stroke="#8e8e8e" stroke-width="2"/>
<text x="131" y="920.5" font-size="36" text-anchor="end">-8</text>
<line x1="151" y1="784" x2="1746" y2="784" stroke="#8e8e8e" stroke-width="2"/>
<text x="131" y="798.3" font-size="36" text-anchor="end">-10</text>
<line x1="151" y1="661.8" x2="1746" y2="661.8" stroke="#8e8e8e" stroke-width="2"/>
<text x="131" y="676.1" font-size="36" text-anchor="end">-12</text>
<line x1="151" y1="539.6" x2="1746" y2="539.6" stroke="#8e8e8e" stroke-width="2"/>
<text x="131" y="553.9" font-size="36" text-anchor="end">-14</text>
<line x1="162.6" y1="539" x2="162.6" y2="1523.5" stroke="#8e8e8e" stroke-width="2"/>
<line x1="558.1" y1="1395" x2="558.1" y2="1523.5" stroke="#8e8e8e" stroke-width="2"/>
<line x1="954.1" y1="1395" x2="954.1" y2="1523.5" stroke="#8e8e8e" stroke-width="2"/>
<line x1="1350.1" y1="1395" x2="1350.1" y2="1523.5" stroke="#8e8e8e" stroke-width="2"/>
<line x1="1746" y1="1395" x2="1746" y2="1523.5" stroke="#8e8e8e" stroke-width="2"/>
<text transform="translate(118,969) rotate(-90)" font-size="37.5" text-anchor="middle">μV</text>
<text x="228" y="1450.6" font-size="36" text-anchor="middle">PRE</text>
<text x="360" y="1450.6" font-size="36" text-anchor="middle">POST 1</text>
<text x="492" y="1450.6" font-size="36" text-anchor="middle">POST 2</text>
<text x="624" y="1450.6" font-size="36" text-anchor="middle">PRE</text>
<text x="756" y="1450.6" font-size="36" text-anchor="middle">POST 1</text>
<text x="888" y="1450.6" font-size="36" text-anchor="middle">POST 2</text>
<text x="1020" y="1450.6" font-size="36" text-anchor="middle">PRE</text>
<text x="1152" y="1450.6" font-size="36" text-anchor="middle">POST 1</text>
<text x="1284" y="1450.6" font-size="36" text-anchor="middle">POST 2</text>
<text x="1416" y="1450.6" font-size="36" text-anchor="middle">PRE</text>
<text x="1548" y="1450.6" font-size="36" text-anchor="middle">POST 1</text>
<text x="1680" y="1450.6" font-size="36" text-anchor="middle">POST 2</text>
<text x="360" y="1515.8" font-size="36" text-anchor="middle">BP1</text>
<text x="756" y="1515.8" font-size="36" text-anchor="middle">BP2</text>
<text x="1152" y="1515.8" font-size="36" text-anchor="middle">NS'</text>
<text x="1548" y="1515.8" font-size="36" text-anchor="middle">MP</text>
<rect x="187.6" y="1286.7" width="2.6" height="108.3" fill="url(#sh)"/>
<rect x="190.2" y="1282.7" width="37.8" height="112.3" fill="url(#h0)"/>
<rect x="228" y="1299.8" width="37.8" height="95.2" fill="#206E7B"/>
<rect x="319.6" y="1355.7" width="2.6" height="39.3" fill="url(#sh)"/>
<rect x="322.2" y="1351.7" width="37.8" height="43.3" fill="url(#h1)"/>
<rect x="360" y="1345.6" width="37.8" height="49.4" fill="#F37A41"/>
<rect x="451.6" y="1376.5" width="2.6" height="18.5" fill="url(#sh)"/>
<rect x="454.2" y="1372.5" width="37.8" height="22.5" fill="url(#h2)"/>
<rect x="492" y="1391.4" width="37.8" height="3.6" fill="#4BA9B0"/>
<rect x="583.6" y="1158.4" width="2.6" height="236.6" fill="url(#sh)"/>
<rect x="586.2" y="1154.4" width="37.8" height="240.6" fill="url(#h3)"/>
<rect x="624" y="1138.5" width="37.8" height="256.5" fill="#206E7B"/>
<rect x="715.6" y="1294" width="2.6" height="101" fill="url(#sh)"/>
<rect x="718.2" y="1290" width="37.8" height="105" fill="url(#h4)"/>
<rect x="756" y="1241.8" width="37.8" height="153.2" fill="#F37A41"/>
<rect x="847.6" y="1311.1" width="2.6" height="83.9" fill="url(#sh)"/>
<rect x="850.2" y="1307.1" width="37.8" height="87.9" fill="url(#h5)"/>
<rect x="888" y="1287.6" width="37.8" height="107.4" fill="#4BA9B0"/>
<rect x="979.6" y="1020.9" width="2.6" height="374.1" fill="url(#sh)"/>
<rect x="982.2" y="1016.9" width="37.8" height="378.1" fill="url(#h6)"/>
<rect x="1020" y="935.6" width="37.8" height="459.4" fill="#206E7B"/>
<rect x="1111.6" y="1145.5" width="2.6" height="249.5" fill="url(#sh)"/>
<rect x="1114.2" y="1141.5" width="37.8" height="253.5" fill="url(#h7)"/>
<rect x="1152" y="1015.7" width="37.8" height="379.3" fill="#F37A41"/>
<rect x="1243.6" y="1176.1" width="2.6" height="218.9" fill="url(#sh)"/>
<rect x="1246.2" y="1172.1" width="37.8" height="222.9" fill="url(#h8)"/>
<rect x="1284" y="1103.1" width="37.8" height="291.9" fill="#4BA9B0"/>
<rect x="1375.6" y="962.2" width="2.6" height="432.8" fill="url(#sh)"/>
<rect x="1378.2" y="958.2" width="37.8" height="436.8" fill="url(#h9)"/>
<rect x="1416" y="869.7" width="37.8" height="525.3" fill="#206E7B"/>
<rect x="1507.6" y="1083.8" width="2.6" height="311.2" fill="url(#sh)"/>
<rect x="1510.2" y="1079.8" width="37.8" height="315.2" fill="url(#h10)"/>
<rect x="1548" y="943" width="37.8" height="452" fill="#F37A41"/>
<rect x="1639.6" y="1124.8" width="2.6" height="270.2" fill="url(#sh)"/>
<rect x="1642.2" y="1120.8" width="37.8" height="274.2" fill="url(#h11)"/>
<rect x="1680" y="1030.3" width="37.8" height="364.7" fill="#4BA9B0"/>
<line x1="151" y1="1395" x2="1746" y2="1395" stroke="#8e8e8e" stroke-width="2"/>
<line x1="209.1" y1="1282.7" x2="209.1" y2="1182.5" stroke="#000" stroke-width="2.2"/>
<line x1="202.6" y1="1182.5" x2="215.6" y2="1182.5" stroke="#000" stroke-width="2.2" stroke-linecap="round"/>
<line x1="246.9" y1="1299.8" x2="246.9" y2="1209.4" stroke="#000" stroke-width="2.2"/>
<line x1="240.4" y1="1209.4" x2="253.4" y2="1209.4" stroke="#000" stroke-width="2.2" stroke-linecap="round"/>
<line x1="341.1" y1="1351.7" x2="341.1" y2="1224.6" stroke="#000" stroke-width="2.2"/>
<line x1="334.6" y1="1224.6" x2="347.6" y2="1224.6" stroke="#000" stroke-width="2.2" stroke-linecap="round"/>
<line x1="378.9" y1="1345.6" x2="378.9" y2="1250.3" stroke="#000" stroke-width="2.2"/>
<line x1="372.4" y1="1250.3" x2="385.4" y2="1250.3" stroke="#000" stroke-width="2.2" stroke-linecap="round"/>
<line x1="473.1" y1="1372.5" x2="473.1" y2="1262.9" stroke="#000" stroke-width="2.2"/>
<line x1="466.6" y1="1262.9" x2="479.6" y2="1262.9" stroke="#000" stroke-width="2.2" stroke-linecap="round"/>
<line x1="510.9" y1="1391.4" x2="510.9" y2="1269.6" stroke="#000" stroke-width="2.2"/>
<line x1="504.4" y1="1269.6" x2="517.4" y2="1269.6" stroke="#000" stroke-width="2.2" stroke-linecap="round"/>
<line x1="605.1" y1="1154.4" x2="605.1" y2="1021.8" stroke="#000" stroke-width="2.2"/>
<line x1="598.6" y1="1021.8" x2="611.6" y2="1021.8" stroke="#000" stroke-width="2.2" stroke-linecap="round"/>
<line x1="642.9" y1="1138.5" x2="642.9" y2="989.4" stroke="#000" stroke-width="2.2"/>
<line x1="636.4" y1="989.4" x2="649.4" y2="989.4" stroke="#000" stroke-width="2.2" stroke-linecap="round"/>
<line x1="737.1" y1="1290" x2="737.1" y2="1143.5" stroke="#000" stroke-width="2.2"/>
<line x1="730.6" y1="1143.5" x2="743.6" y2="1143.5" stroke="#000" stroke-width="2.2" stroke-linecap="round"/>
<line x1="774.9" y1="1241.8" x2="774.9" y2="1144.7" stroke="#000" stroke-width="2.2"/>
<line x1="768.4" y1="1144.7" x2="781.4" y2="1144.7" stroke="#000" stroke-width="2.2" stroke-linecap="round"/>
<line x1="869.1" y1="1307.1" x2="869.1" y2="1165.4" stroke="#000" stroke-width="2.2"/>
<line x1="862.6" y1="1165.4" x2="875.6" y2="1165.4" stroke="#000" stroke-width="2.2" stroke-linecap="round"/>
<line x1="906.9" y1="1287.6" x2="906.9" y2="1155.8" stroke="#000" stroke-width="2.2"/>
<line x1="900.4" y1="1155.8" x2="913.4" y2="1155.8" stroke="#000" stroke-width="2.2" stroke-linecap="round"/>
<line x1="1001.1" y1="1016.9" x2="1001.1" y2="881.3" stroke="#000" stroke-width="2.2"/>
<line x1="994.6" y1="881.3" x2="1007.6" y2="881.3" stroke="#000" stroke-width="2.2" stroke-linecap="round"/>
<line x1="1038.9" y1="935.6" x2="1038.9" y2="752.3" stroke="#000" stroke-width="2.2"/>
<line x1="1032.4" y1="752.3" x2="1045.4" y2="752.3" stroke="#000" stroke-width="2.2" stroke-linecap="round"/>
<line x1="1133.1" y1="1141.5" x2="1133.1" y2="980" stroke="#000" stroke-width="2.2"/>
<line x1="1126.6" y1="980" x2="1139.6" y2="980" stroke="#000" stroke-width="2.2" stroke-linecap="round"/>
<line x1="1170.9" y1="1015.7" x2="1170.9" y2="864.8" stroke="#000" stroke-width="2.2"/>
<line x1="1164.4" y1="864.8" x2="1177.4" y2="864.8" stroke="#000" stroke-width="2.2" stroke-linecap="round"/>
<line x1="1265.1" y1="1172.1" x2="1265.1" y2="989.9" stroke="#000" stroke-width="2.2"/>
<line x1="1258.6" y1="989.9" x2="1271.6" y2="989.9" stroke="#000" stroke-width="2.2" stroke-linecap="round"/>
<line x1="1302.9" y1="1103.1" x2="1302.9" y2="911.1" stroke="#000" stroke-width="2.2"/>
<line x1="1296.4" y1="911.1" x2="1309.4" y2="911.1" stroke="#000" stroke-width="2.2" stroke-linecap="round"/>
<line x1="1397.1" y1="958.2" x2="1397.1" y2="816.5" stroke="#000" stroke-width="2.2"/>
<line x1="1390.6" y1="816.5" x2="1403.6" y2="816.5" stroke="#000" stroke-width="2.2" stroke-linecap="round"/>
<line x1="1434.9" y1="869.7" x2="1434.9" y2="665" stroke="#000" stroke-width="2.2"/>
<line x1="1428.4" y1="665" x2="1441.4" y2="665" stroke="#000" stroke-width="2.2" stroke-linecap="round"/>
<line x1="1529.1" y1="1079.8" x2="1529.1" y2="900.6" stroke="#000" stroke-width="2.2"/>
<line x1="1522.6" y1="900.6" x2="1535.6" y2="900.6" stroke="#000" stroke-width="2.2" stroke-linecap="round"/>
<line x1="1566.9" y1="943" x2="1566.9" y2="767" stroke="#000" stroke-width="2.2"/>
<line x1="1560.4" y1="767" x2="1573.4" y2="767" stroke="#000" stroke-width="2.2" stroke-linecap="round"/>
<line x1="1661.1" y1="1120.8" x2="1661.1" y2="929" stroke="#000" stroke-width="2.2"/>
<line x1="1654.6" y1="929" x2="1667.6" y2="929" stroke="#000" stroke-width="2.2" stroke-linecap="round"/>
<line x1="1698.9" y1="1030.3" x2="1698.9" y2="829.4" stroke="#000" stroke-width="2.2"/>
<line x1="1692.4" y1="829.4" x2="1705.4" y2="829.4" stroke="#000" stroke-width="2.2" stroke-linecap="round"/>
<text class="st" transform="translate(472.2,1255.2) scale(1,0.91)" font-size="28.5" text-anchor="middle" stroke="#000" stroke-width="0.3">*</text>
<text class="st" transform="translate(510.9,1235.2) scale(1,0.91)" font-size="28.5" text-anchor="middle" stroke="#000" stroke-width="0.3">*</text>
<text class="st" transform="translate(510.9,1255.2) scale(1,0.91)" font-size="28.5" text-anchor="middle" stroke="#000" stroke-width="0.3">*</text>
<text class="st" transform="translate(737.2,1116) scale(1,0.91)" font-size="28.5" text-anchor="middle" stroke="#000" stroke-width="0.3">*</text>
<text class="st" transform="translate(737.2,1136.8) scale(1,0.91)" font-size="28.5" text-anchor="middle" stroke="#000" stroke-width="0.3">*</text>
<text class="st" transform="translate(775.9,1138.4) scale(1,0.91)" font-size="28.5" text-anchor="middle" stroke="#000" stroke-width="0.3">*</text>
<text class="st" transform="translate(869.4,1127.7) scale(1,0.91)" font-size="28.5" text-anchor="middle" stroke="#000" stroke-width="0.3">*</text>
<text class="st" transform="translate(870.1,1150.5) scale(1,0.91)" font-size="28.5" text-anchor="middle" stroke="#000" stroke-width="0.3">*</text>
<text class="st" transform="translate(908.5,1128.1) scale(1,0.91)" font-size="28.5" text-anchor="middle" stroke="#000" stroke-width="0.3">*</text>
<text class="st" transform="translate(908.3,1150.5) scale(1,0.91)" font-size="28.5" text-anchor="middle" stroke="#000" stroke-width="0.3">*</text>
<text class="st" transform="translate(1134.2,972) scale(1,0.91)" font-size="28.5" text-anchor="middle" stroke="#000" stroke-width="0.3">*</text>
<text class="st" transform="translate(1265.4,962.2) scale(1,0.91)" font-size="28.5" text-anchor="middle" stroke="#000" stroke-width="0.3">*</text>
<text class="st" transform="translate(1265.4,981.8) scale(1,0.91)" font-size="28.5" text-anchor="middle" stroke="#000" stroke-width="0.3">*</text>
<text class="st" transform="translate(1302.6,883.9) scale(1,0.91)" font-size="28.5" text-anchor="middle" stroke="#000" stroke-width="0.3">*</text>
<text class="st" transform="translate(1302.6,903.7) scale(1,0.91)" font-size="28.5" text-anchor="middle" stroke="#000" stroke-width="0.3">*</text>
<text class="st" transform="translate(1528.6,894.5) scale(1,0.91)" font-size="28.5" text-anchor="middle" stroke="#000" stroke-width="0.3">*</text>
<text class="st" transform="translate(1660.7,904.3) scale(1,0.91)" font-size="28.5" text-anchor="middle" stroke="#000" stroke-width="0.3">*</text>
<text class="st" transform="translate(1660.7,926.5) scale(1,0.91)" font-size="28.5" text-anchor="middle" stroke="#000" stroke-width="0.3">*</text>
<text class="st" transform="translate(1698.7,806.2) scale(1,0.91)" font-size="28.5" text-anchor="middle" stroke="#000" stroke-width="0.3">*</text>
<text class="st" transform="translate(1698.7,826.1) scale(1,0.91)" font-size="28.5" text-anchor="middle" stroke="#000" stroke-width="0.3">*</text>
</svg></body></html>
